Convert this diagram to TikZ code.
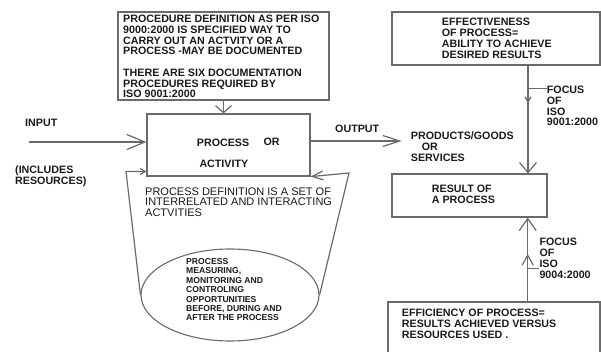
\documentclass[tikz,border=0pt]{standalone}
\usepackage{fontspec}
\setmainfont{Liberation Sans}
\usetikzlibrary{arrows.meta,shapes.geometric,decorations.markings,calc}
\definecolor{lg}{HTML}{6A6A6A}
\definecolor{tc}{HTML}{1A1A1A}
\begin{document}
\begin{tikzpicture}[x=1pt,y=-1pt,
  boxst/.style={draw=lg,line width=1.2pt,rectangle,inner sep=0pt},
  btxt/.style={font=\bfseries\fontsize{10.7}{10.7}\selectfont,text=tc,anchor=north west,inner sep=0pt,align=left},
  rtxt/.style={font=\fontsize{11}{10.6}\selectfont,text=tc,anchor=north west,inner sep=0pt,align=left},
  stxt/.style={font=\bfseries\fontsize{8.6}{9.4}\selectfont,text=tc,anchor=north west,inner sep=0pt,align=left},
  arr/.style={draw=lg,line width=1.2pt},
  midarr/.style 2 args={postaction={decorate},decoration={markings,mark=at position #1 with {\arrow[lg]{#2}}}}]
\useasboundingbox (0,0) rectangle (601,352);
\fill[white] (0,0) rectangle (601,352);
% boxes
\node[boxst,minimum width=211pt,minimum height=88pt] (topbox) at (223.5,56) {};
\node[boxst,minimum width=163pt,minimum height=62pt] (proc) at (228.5,145) {};
\node[boxst,minimum width=208pt,minimum height=53pt] (eff) at (496,38.5) {};
\node[boxst,minimum width=155pt,minimum height=43pt] (result) at (469.5,195.5) {};
\node[boxst,minimum width=212pt,minimum height=60pt] (effic) at (494,332) {};
\node[draw=lg,line width=1.1pt,ellipse,minimum width=178pt,minimum height=92pt,inner sep=0pt] (ell) at (230,295) {};
% texts
\node[btxt] (toptext) at (123,15) {PROCEDURE DEFINITION AS PER ISO\\9000:2000 IS SPECIFIED WAY TO\\CARRY OUT AN ACTVITY OR A\\PROCESS -MAY BE DOCUMENTED\\[10.9pt]THERE ARE SIX DOCUMENTATION\\PROCEDURES REQUIRED BY\\ISO 9001:2000};
\node[btxt] (inlabel) at (25,119.3) {INPUT};
\node[btxt] (incl) at (15,166) {(INCLUDES\\RESOURCES)};
\node[btxt] (ptext) at (196.7,139.3) {PROCESS};
\node[btxt] (ortext) at (263.3,138.3) {OR};
\node[btxt] (atext) at (199.3,160) {ACTIVITY};
\node[btxt] (outlabel) at (335,125) {OUTPUT};
\node[btxt] (prod) at (410.7,131.7) {PRODUCTS/GOODS\\\hspace*{11pt}OR\\SERVICES};
\node[btxt] (efftext) at (441.7,18.3) {EFFECTIVENESS\\OF PROCESS=\\ABILITY TO ACHIEVE\\DESIRED RESULTS};
\node[btxt] (f1) at (546.7,86) {FOCUS\\OF\\ISO\\9001:2000};
\node[btxt] (restext) at (431.7,185) {RESULT OF\\A PROCESS};
\node[btxt] (f2) at (539.3,238.3) {FOCUS\\OF\\ISO\\9004:2000};
\node[btxt] (effictext) at (401.7,309.3) {EFFICIENCY OF PROCESS=\\RESULTS ACHIEVED VERSUS\\RESOURCES USED .};
\node[rtxt] (deftext) at (145,187.3) {PROCESS DEFINITION IS A SET OF\\INTERRELATED AND INTERACTING\\ACTVITIES};
\node[stxt] (elltext) at (186,258.3) {PROCESS\\MEASURING,\\MONITORING AND\\CONTROLING\\OPPORTUNITIES\\BEFORE, DURING AND\\AFTER THE PROCESS};
% coordinates
\coordinate (inp) at (29,142);
\coordinate (outp) at (401.7,141);
\coordinate (fl) at (126,171.5);
\coordinate (fr) at (349,173);
\coordinate (e1) at (528,65);
\coordinate (e2) at (527.7,302);
\coordinate (t1) at (528,88.5);
\coordinate (t2) at (527.7,268.3);
% connectors
\draw[arr,-{Straight Barb[length=7pt,width=16pt]}] (topbox.south) -- (topbox.south |- proc.north);
\draw[arr,-{Straight Barb[length=18pt,width=15pt]}] (inp) -- (inp -| proc.west);
\draw[arr,-{Straight Barb[length=17pt,width=11pt]}] (outp -| proc.east) -- (outp);
\draw[arr,midarr={0.35}{Straight Barb[length=5pt,width=6pt]},-{Straight Barb[length=10pt,width=17pt]}] (e1) -- (e1 |- result.north);
\draw[arr,midarr={0.57}{Straight Barb[length=10pt,width=11pt]},-{Straight Barb[length=12pt,width=17pt]}] (e2) -- (e2 |- result.south);
\draw[arr] (t1) -- (t1 -| f1.west);
\draw[arr] (t2) -- (t2 -| f2.west);
\draw[arr,-{Straight Barb[length=5pt,width=6pt]}] (ell.west) -- (fl) -- (fl -| proc.west);
\draw[arr,-{Straight Barb[length=11pt,width=9pt]}] (ell.east) -- (fr) -- (proc.south east);
\end{tikzpicture}
\end{document}
